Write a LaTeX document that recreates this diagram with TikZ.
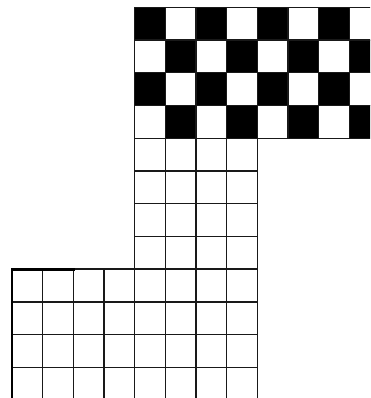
\documentclass[tikz,border=0pt]{standalone}
\begin{document}
\begin{tikzpicture}[x=1pt,y=-1pt,
  gridline/.style={line width=1.3pt, draw=black!90},
  heavyline/.style={line width=3pt, draw=black, line cap=rect},
  blackcell/.style={fill=black}]
\def\cw{30.65}\def\rh{32.73}\def\xo{12}\def\yo{7.3}
\clip (0,0) rectangle (370,398);
\fill[white] (0,0) rectangle (370,398);
% checkerboard black cells
\foreach \r in {0,...,3}{
  \foreach \c in {0,...,7}{
    \ifodd\numexpr\r+\c\relax\else
      \fill[blackcell] ({\xo+(4+\c)*\cw},{\yo+\r*\rh}) rectangle ({\xo+(5+\c)*\cw},{\yo+(\r+1)*\rh});
    \fi
  }
}
% checkerboard lines
\foreach \r in {0,...,4}
  \draw[gridline] ({\xo+4*\cw},{\yo+\r*\rh}) -- (380,{\yo+\r*\rh});
\foreach \k in {4,...,12}
  \draw[gridline] ({\xo+\k*\cw},{\yo}) -- ({\xo+\k*\cw},{\yo+4*\rh});
% middle column of white cells
\foreach \r in {5,...,7}
  \draw[gridline] ({\xo+4*\cw},{\yo+\r*\rh}) -- ({\xo+8*\cw},{\yo+\r*\rh});
\foreach \k in {4,...,8}
  \draw[gridline] ({\xo+\k*\cw},{\yo+4*\rh}) -- ({\xo+\k*\cw},{\yo+8*\rh});
% lower grid
\foreach \r in {8,...,11}
  \draw[gridline] ({\xo},{\yo+\r*\rh}) -- ({\xo+8*\cw},{\yo+\r*\rh});
\foreach \k in {1,...,8}
  \draw[gridline] ({\xo+\k*\cw},{\yo+8*\rh}) -- ({\xo+\k*\cw},405);
% heavy edges
\draw[line width=2pt,draw=black] ({\xo},{\yo+8*\rh}) -- ({\xo},405);
\draw[heavyline] ({\xo},{\yo+8*\rh}) -- ({\xo+2*\cw},{\yo+8*\rh});
\end{tikzpicture}
\end{document}
